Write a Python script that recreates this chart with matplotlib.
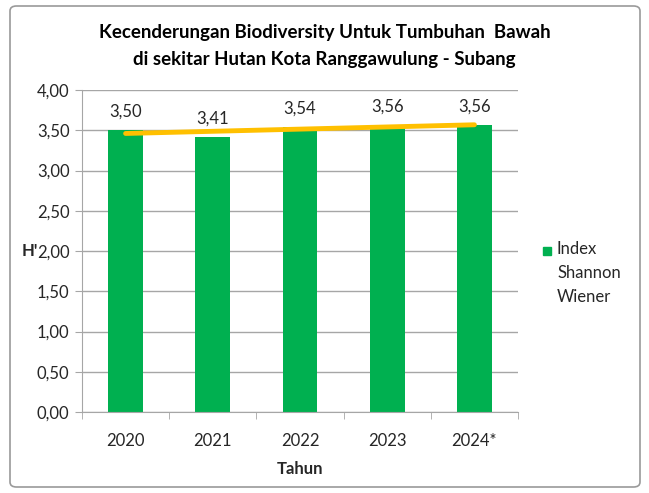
import numpy as np
import matplotlib
matplotlib.use("Agg")
import matplotlib.pyplot as plt
from matplotlib.patches import FancyBboxPatch, Rectangle

years = ["2020", "2021", "2022", "2023", "2024*"]
shannon = [3.50, 3.41, 3.54, 3.56, 3.56]
yticks = [0, 0.5, 1.0, 1.5, 2.0, 2.5, 3.0, 3.5, 4.0]
legend_label = "Index\nShannon\nWiener"

GREEN = "#00B050"
ORANGE = "#FFC000"
GRID = "#A6A6A6"
TEXT = "#262626"

plt.rcParams["font.family"] = ["Lato", "DejaVu Sans"]

fig = plt.figure(figsize=(6.49, 4.93), dpi=100)
ax = fig.add_axes([82 / 649, 1 - 412 / 493, 436 / 649, 322 / 493])

x = np.arange(len(years))
ax.bar(x, shannon, width=0.4, color=GREEN, zorder=2)
for xi, v in zip(x, shannon):
    ax.text(xi, v + 0.13, f"{v:.2f}".replace(".", ","), ha="center", va="bottom",
            fontsize=12, color=TEXT)

# linear trendline, like Excel
slope, icpt = np.polyfit(x, shannon, 1)
ax.plot([x[0], x[-1]], [icpt, icpt + slope * x[-1]], color=ORANGE, lw=3.5,
        solid_capstyle="round", zorder=3)

ax.set_xlim(-0.5, len(years) - 0.5)
ax.set_ylim(0, 4)
ax.set_yticks(yticks)
ax.set_yticklabels([f"{t:.2f}".replace(".", ",") for t in yticks], fontsize=12, color=TEXT)
ax.yaxis.grid(True, color=GRID, lw=1, zorder=0)
ax.set_axisbelow(True)

ax.set_xticks(x)
ax.set_xticklabels(years, fontsize=12, color=TEXT)
ax.set_xticks(np.arange(-0.5, len(years)), minor=True)
ax.tick_params(axis="x", which="major", length=0, pad=15)
ax.tick_params(axis="x", which="minor", length=5, color=GRID)
ax.tick_params(axis="y", length=5, color=GRID, pad=4)

for s in ["top", "right"]:
    ax.spines[s].set_visible(False)
for s in ["left", "bottom"]:
    ax.spines[s].set_color(GRID)

ax.set_xlabel("Tahun", fontsize=12, fontweight="bold", color=TEXT, labelpad=9)
fig.text(22 / 649, 1 - 251 / 493, "H'", fontsize=12, fontweight="bold", color=TEXT,
         ha="left", va="center")

fig.text(0.5, 1 - 24 / 493,
         "Kecenderungan Biodiversity Untuk Tumbuhan  Bawah\ndi sekitar Hutan Kota Ranggawulung - Subang",
         ha="center", va="top", fontsize=13.5, fontweight="bold", color="black",
         linespacing=1.7)

# legend: square beside the first line of a three-line label
fig.patches.append(Rectangle((543 / 649, 1 - 255 / 493), 8 / 649, 8 / 493,
                             transform=fig.transFigure, color=GREEN))
fig.text(557 / 649, 1 - 241 / 493, legend_label, ha="left", va="top",
         fontsize=12, color=TEXT, linespacing=1.6)

border = FancyBboxPatch((10 / 649, 6 / 493), 630 / 649, 481 / 493,
                        boxstyle="round,pad=0,rounding_size=0.01",
                        transform=fig.transFigure, fill=False, ec="#9A9A9A", lw=1.2)
fig.patches.append(border)

fig.savefig("out.png", dpi=100)
